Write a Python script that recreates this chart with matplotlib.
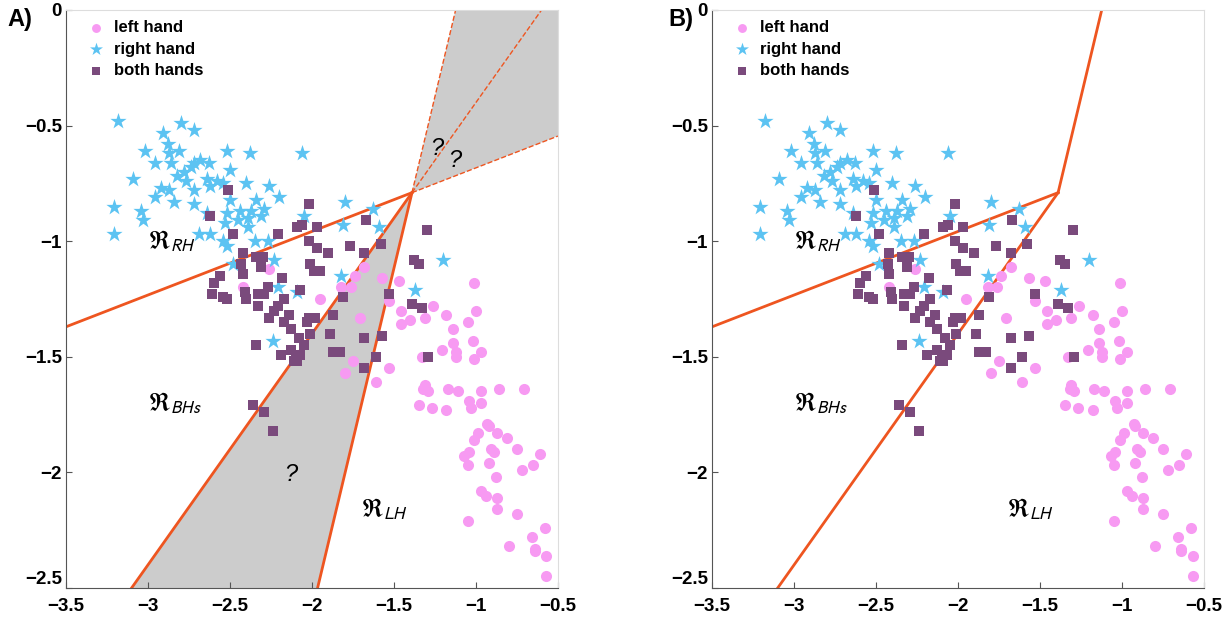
import numpy as np
import matplotlib
matplotlib.use('Agg')
import matplotlib.pyplot as plt

plt.rcParams['font.family'] = ['Liberation Sans', 'DejaVu Sans']
plt.rcParams['mathtext.fontset'] = 'stixsans'

# left hand (circles)
lh_x = [-2.26, -2.42, -1.95, -1.82, -1.76, -1.74, -1.68, -1.57, -1.47, -1.53, -1.46, -1.46, -1.40, -1.71, -1.75, -1.80, -1.61, -1.53,
        -1.26, -1.31, -1.18, -1.14, -1.05, -1.01, -1.00, -1.14, -1.02, -1.21, -1.12, -1.12, -0.97, -1.01, -1.33,
        -1.31, -1.32, -1.29, -1.17, -1.11, -0.97, -0.86, -0.71, -1.35, -1.27, -1.18, -1.04, -1.03, -0.97,
        -0.93, -0.92, -0.99, -1.01, -0.87, -0.81, -1.04, -1.07, -1.05, -0.91, -0.89, -0.92,
        -0.75, -0.61, -0.65, -0.72, -0.88, -0.97, -0.94, -0.87, -0.87, -0.75, -1.05,
        -0.58, -0.66, -0.80, -0.64, -0.64, -0.57, -0.57]
lh_y = [-1.12, -1.20, -1.25, -1.20, -1.20, -1.15, -1.11, -1.16, -1.17, -1.26, -1.30, -1.36, -1.34, -1.33, -1.52, -1.57, -1.61, -1.55,
        -1.28, -1.33, -1.32, -1.38, -1.35, -1.18, -1.30, -1.44, -1.43, -1.47, -1.48, -1.50, -1.48, -1.51, -1.50,
        -1.62, -1.64, -1.65, -1.64, -1.65, -1.65, -1.64, -1.64, -1.71, -1.72, -1.73, -1.69, -1.72, -1.70,
        -1.79, -1.80, -1.83, -1.86, -1.83, -1.85, -1.91, -1.93, -1.97, -1.90, -1.91, -1.96,
        -1.90, -1.92, -1.97, -1.99, -2.02, -2.08, -2.10, -2.11, -2.16, -2.18, -2.21,
        -2.24, -2.28, -2.32, -2.33, -2.34, -2.36, -2.45]

# right hand (stars)
rh_x = [-3.18, -2.80, -2.72, -2.91, -2.88, -3.02, -2.81, -2.87, -2.96, -2.86, -2.52, -2.38, -2.06, -2.68, -2.63,
        -2.72, -2.74, -2.50, -3.09, -2.78, -2.82, -2.77, -2.64, -2.58, -2.54, -2.62, -2.40, -2.26, -2.92, -2.87,
        -2.72, -2.96, -2.84, -2.72, -2.50, -2.20, -2.34, -3.21, -3.04, -3.03, -2.64, -2.52, -2.44, -2.37, -2.29,
        -2.39, -2.31, -2.45, -2.53, -2.39, -3.21, -2.69, -2.62, -2.54, -2.52, -2.35, -2.27, -2.23, -2.05,
        -1.80, -1.63, -1.59, -1.81, -2.48, -1.82, -2.21, -2.09, -2.24, -1.20, -1.37]
rh_y = [-0.48, -0.49, -0.52, -0.53, -0.58, -0.61, -0.61, -0.62, -0.66, -0.66, -0.61, -0.62, -0.62, -0.65, -0.66,
        -0.66, -0.68, -0.69, -0.73, -0.70, -0.72, -0.74, -0.73, -0.74, -0.75, -0.76, -0.75, -0.76, -0.77, -0.78,
        -0.78, -0.81, -0.83, -0.84, -0.82, -0.81, -0.82, -0.85, -0.87, -0.91, -0.88, -0.88, -0.87, -0.87, -0.86,
        -0.90, -0.89, -0.91, -0.92, -0.94, -0.97, -0.97, -0.97, -1.00, -1.02, -1.00, -1.00, -1.08, -0.89,
        -0.83, -0.86, -0.94, -0.93, -1.10, -1.15, -1.20, -1.22, -1.43, -1.08, -1.21]

# both hands (squares)
bh_x = [-2.51, -2.62, -2.48, -2.21, -2.02, -2.09, -2.06, -1.97, -2.02, -1.97, -1.90, -1.77, -1.67, -1.68, -1.58,
        -2.42, -2.34, -2.30, -2.43, -2.31, -2.01, -1.99, -1.95, -2.42, -2.56, -2.60, -2.61, -2.54, -2.52, -2.41,
        -2.40, -2.33, -2.29, -2.27, -2.33, -2.18, -2.17, -2.07, -2.21, -2.23, -2.26, -2.14, -2.17, -2.13, -2.02,
        -1.98, -2.03, -1.87, -1.81, -2.01, -1.89, -2.34, -2.08, -2.05, -2.19, -2.13, -2.10, -2.07, -2.11, -2.09,
        -1.87, -1.83, -1.68, -1.57, -1.53, -1.61, -1.68, -2.36, -2.29, -2.24, -1.30, -1.38, -1.35, -1.39, -1.33, -1.29]
bh_y = [-0.78, -0.89, -0.97, -0.97, -0.84, -0.94, -0.93, -0.94, -1.00, -1.03, -1.05, -1.02, -0.91, -1.05, -1.01,
        -1.05, -1.07, -1.07, -1.10, -1.11, -1.10, -1.13, -1.13, -1.14, -1.15, -1.18, -1.23, -1.24, -1.25, -1.22,
        -1.25, -1.23, -1.23, -1.20, -1.28, -1.16, -1.25, -1.21, -1.28, -1.30, -1.33, -1.32, -1.35, -1.38, -1.33,
        -1.33, -1.35, -1.32, -1.24, -1.40, -1.40, -1.45, -1.42, -1.45, -1.49, -1.47, -1.49, -1.49, -1.52, -1.52,
        -1.48, -1.48, -1.42, -1.41, -1.23, -1.50, -1.55, -1.71, -1.74, -1.82, -0.95, -1.08, -1.10, -1.27, -1.29, -1.50]

# decision boundaries: common vertex and slopes
vx, vy = -1.39, -0.79
slope_rh, slope_bh, slope_lh = 0.275, 1.0, 2.97

xlim = (-3.5, -0.5)
ylim = (-2.5, 0)

c_line = '#EE5520'
c_lh = '#F79AF2'
c_rh = '#5CC3F2'
c_bh = '#7A4A7C'


def x_at(slope, y):
    return vx + (y - vy) / slope


def y_at(slope, x):
    return vy + (x - vx) * slope


fig = plt.figure(figsize=(12.26, 6.21), dpi=100)
ax_a = fig.add_axes([0.0538, 0.0531, 0.4013, 0.9308])
ax_b = fig.add_axes([0.5808, 0.0531, 0.4013, 0.9308])

for ax, panel in [(ax_a, 'A'), (ax_b, 'B')]:
    if panel == 'A':
        # undecided regions
        ax.fill([vx, x_at(slope_bh, ylim[0]), x_at(slope_lh, ylim[0])],
                [vy, ylim[0], ylim[0]], color='#CCCCCC', lw=0, zorder=0)
        ax.fill([vx, x_at(slope_lh, ylim[1]), xlim[1], xlim[1]],
                [vy, ylim[1], ylim[1], y_at(slope_rh, xlim[1])], color='#CCCCCC', lw=0, zorder=0)
        ax.plot([xlim[0], vx], [y_at(slope_rh, xlim[0]), vy], color=c_line, lw=2, zorder=1)
        ax.plot([x_at(slope_bh, ylim[0]), vx], [ylim[0], vy], color=c_line, lw=2, zorder=1)
        ax.plot([x_at(slope_lh, ylim[0]), vx], [ylim[0], vy], color=c_line, lw=2, zorder=1)
        ax.plot([vx, xlim[1]], [vy, y_at(slope_rh, xlim[1])], color=c_line, lw=1, ls='--', zorder=1)
        ax.plot([vx, x_at(slope_bh, ylim[1])], [vy, ylim[1]], color=c_line, lw=1, ls='--', zorder=1)
        ax.plot([vx, x_at(slope_lh, ylim[1])], [vy, ylim[1]], color=c_line, lw=1, ls='--', zorder=1)
        ax.text(-1.24, -0.6, '?', fontsize=17, style='italic', ha='center', va='center')
        ax.text(-1.13, -0.65, '?', fontsize=17, style='italic', ha='center', va='center')
        ax.text(-2.13, -2.01, '?', fontsize=17, style='italic', ha='center', va='center')
    else:
        ax.plot([xlim[0], vx], [y_at(slope_rh, xlim[0]), vy], color=c_line, lw=2, zorder=1)
        ax.plot([x_at(slope_bh, ylim[0]), vx], [ylim[0], vy], color=c_line, lw=2, zorder=1)
        ax.plot([vx, x_at(slope_lh, ylim[1])], [vy, ylim[1]], color=c_line, lw=2, zorder=1)

    ax.scatter(lh_x, lh_y, s=64, marker='o', color=c_lh, lw=0, label='left hand', zorder=2)
    ax.scatter(rh_x, rh_y, s=150, marker='*', color=c_rh, lw=0, label='right hand', zorder=3)
    ax.scatter(bh_x, bh_y, s=46, marker='s', color=c_bh, lw=0, label='both hands', zorder=4)

    ax.text(-3.0, -1.0, r'$\Re_{RH}$', fontsize=18, ha='left', va='center')
    ax.text(-3.0, -1.7, r'$\Re_{BHs}$', fontsize=18, ha='left', va='center')
    ax.text(-1.7, -2.16, r'$\Re_{LH}$', fontsize=18, ha='left', va='center')

    ax.set_xlim(xlim)
    ax.set_ylim(ylim)
    ax.set_xticks(np.arange(-3.5, -0.49, 0.5))
    ax.set_yticks(np.arange(-2.5, 0.01, 0.5))
    ax.set_xticklabels(['\u22123.5', '\u22123', '\u22122.5', '\u22122', '\u22121.5', '\u22121', '\u22120.5'])
    ax.set_yticklabels(['\u22122.5', '\u22122', '\u22121.5', '\u22121', '\u22120.5', '0'])
    ax.tick_params(direction='in', length=4, width=0.8, color='#555555', labelsize=13.5)
    ax.tick_params(axis='x', pad=7)
    ax.tick_params(axis='y', pad=3)
    for lab in ax.get_xticklabels() + ax.get_yticklabels():
        lab.set_fontweight('bold')
    # the lowest y label sits just above the corner, as in the source figure
    ax.get_yticklabels()[0].set_verticalalignment('bottom')
    for side in ['left', 'bottom']:
        ax.spines[side].set_color('#555555')
    for side in ['top', 'right']:
        ax.spines[side].set_color('#DDDDDD')

    ax.legend(loc='upper left', bbox_to_anchor=(0.02, 1.0), frameon=False,
              prop={'weight': 'bold', 'size': 12}, labelspacing=0.4, handletextpad=0.5,
              handlelength=1.2, markerscale=0.8, borderaxespad=0.2)

fig.text(0.006, 0.968, 'A)', fontsize=17, fontweight='bold', va='center')
fig.text(0.545, 0.968, 'B)', fontsize=17, fontweight='bold', va='center')

fig.savefig('out.png', dpi=100)
